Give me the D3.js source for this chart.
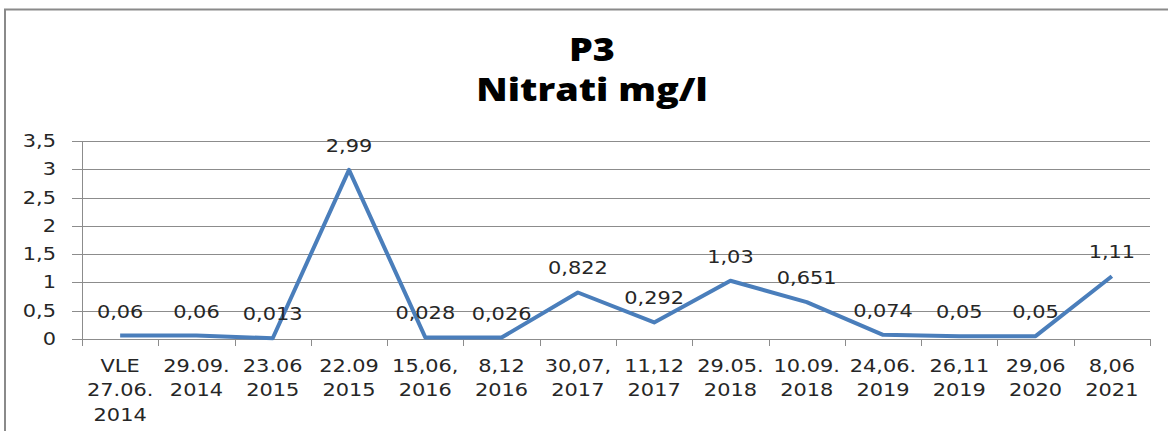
<!DOCTYPE html>
<html>
<head>
<meta charset="utf-8">
<script src="https://cdn.jsdelivr.net/npm/d3@7"></script>
<style>
  html, body { margin: 0; padding: 0; background: #fff; }
  svg text { fill: #262626; font-family: "DejaVu Sans", sans-serif; }
  .title { font-family: "Open Sans", sans-serif; font-weight: 800; fill: #000; }
</style>
</head>
<body>
<svg id="chart" width="1168" height="431"></svg>
<script>
const categories = [
  ['VLE', '27.06.', '2014'], ['29.09.', '2014'], ['23.06', '2015'], ['22.09', '2015'],
  ['15,06,', '2016'], ['8,12', '2016'], ['30,07,', '2017'], ['11,12', '2017'],
  ['29.05.', '2018'], ['10.09.', '2018'], ['24,06.', '2019'], ['26,11', '2019'],
  ['29,06', '2020'], ['8,06', '2021']
]
const values = [0.06, 0.06, 0.013, 2.99, 0.028, 0.026, 0.822, 0.292, 1.03, 0.651, 0.074, 0.05, 0.05, 1.11]
const labels = ['0,06', '0,06', '0,013', '2,99', '0,028', '0,026', '0,822', '0,292', '1,03', '0,651', '0,074', '0,05', '0,05', '1,11']
const yTicks = [0, 0.5, 1, 1.5, 2, 2.5, 3, 3.5]
const titleLines = ['P3', 'Nitrati mg/l']

const svg = d3.select('#chart')
const plot = { left: 82, right: 1150, top: 141, bottom: 339 }
const stretch = 1.16 // the source picture is a bit wider than its text

// chart frame
svg.append('path')
  .attr('d', `M5,431 V9.5 H1168`)
  .attr('fill', 'none')
  .attr('stroke', '#8a8a8a')
  .attr('stroke-width', 2)

const x = d3.scaleBand()
  .domain(d3.range(categories.length))
  .range([plot.left, plot.right])
const y = d3.scaleLinear()
  .domain([0, 3.5])
  .range([plot.bottom, plot.top])

// gridlines
svg.append('g')
  .selectAll('line')
  .data(yTicks)
  .join('line')
    .attr('x1', plot.left - 10)
    .attr('x2', plot.right)
    .attr('y1', d => Math.round(y(d)) + 0.5)
    .attr('y2', d => Math.round(y(d)) + 0.5)
    .attr('stroke', '#8c8c8c')

// y axis line
svg.append('line')
  .attr('x1', plot.left + 0.5).attr('x2', plot.left + 0.5)
  .attr('y1', plot.top).attr('y2', plot.bottom + 7)
  .attr('stroke', '#8c8c8c')

// y tick labels
svg.append('g')
  .selectAll('text')
  .data(yTicks)
  .join('text')
    .attr('transform', d => `translate(56,${y(d) + 6}) scale(${stretch},1)`)
    .attr('text-anchor', 'end')
    .attr('font-size', 18)
    .text(d => String(d).replace('.', ','))

// x ticks
svg.append('g')
  .selectAll('line')
  .data(d3.range(categories.length + 1))
  .join('line')
    .attr('x1', i => Math.round(plot.left + i * x.step()) + 0.5)
    .attr('x2', i => Math.round(plot.left + i * x.step()) + 0.5)
    .attr('y1', plot.bottom)
    .attr('y2', plot.bottom + 7)
    .attr('stroke', '#8c8c8c')

// x tick labels
const xl = svg.append('g')
  .selectAll('text')
  .data(categories)
  .join('text')
    .attr('transform', (d, i) => `translate(${x(i) + x.bandwidth() / 2},372) scale(${stretch},1)`)
    .attr('text-anchor', 'middle')
    .attr('font-size', 18)
xl.selectAll('tspan')
  .data(d => d)
  .join('tspan')
    .attr('x', 0)
    .attr('y', (d, i) => i * 24.5)
    .text(d => d)

// line
const line = d3.line()
  .x((d, i) => x(i) + x.bandwidth() / 2)
  .y(d => y(d))
svg.append('path')
  .attr('d', line(values))
  .attr('fill', 'none')
  .attr('stroke', '#4a7ebb')
  .attr('stroke-width', 4)
  .attr('stroke-linejoin', 'round')

// data labels
svg.append('g')
  .selectAll('text')
  .data(values)
  .join('text')
    .attr('transform', (d, i) => `translate(${x(i) + x.bandwidth() / 2},${y(d) - 18}) scale(${stretch},1)`)
    .attr('text-anchor', 'middle')
    .attr('font-size', 18)
    .text((d, i) => labels[i])

// title
svg.append('g')
  .selectAll('text')
  .data(titleLines)
  .join('text')
    .attr('class', 'title')
    .attr('transform', (d, i) => `translate(592,${61 + i * 39.5}) scale(1.18,1)`)
    .attr('text-anchor', 'middle')
    .attr('font-size', 32)
    .text(d => d)
</script>
</body>
</html>
